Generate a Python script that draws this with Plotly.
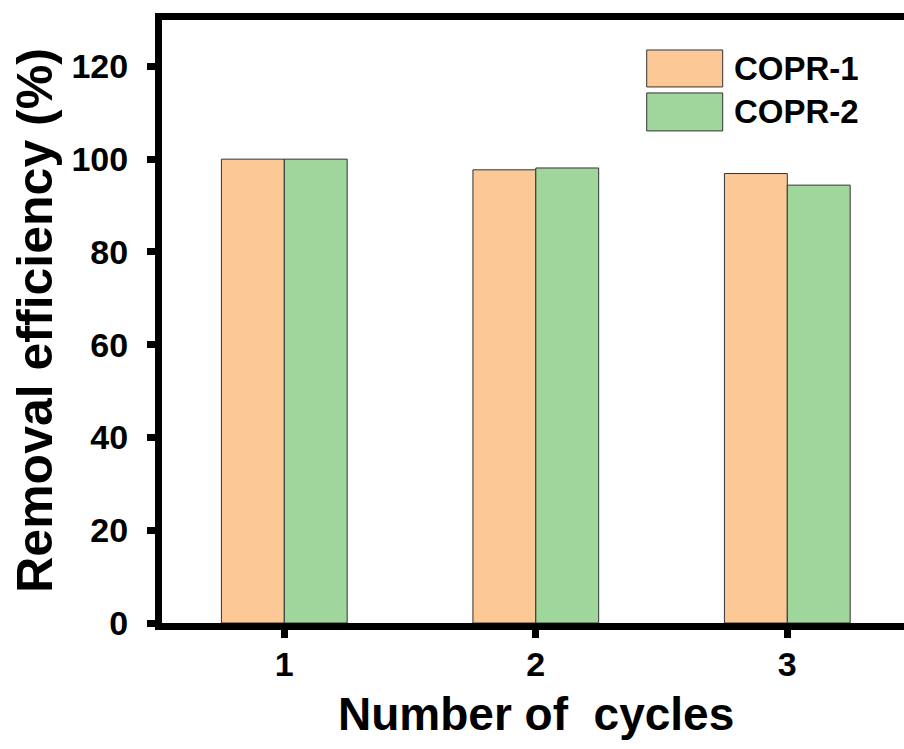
import plotly.graph_objects as go

cycles = [1, 2, 3]
copr1 = [100.0, 97.7, 96.9]
copr2 = [100.0, 98.1, 94.4]
series_names = ["COPR-1", "COPR-2"]
colors = ["#FCC896", "#9ED69C"]
y_ticks = [0, 20, 40, 60, 80, 100, 120]

W, H = 904, 749
L, R, T, B = 162, 0, 20, 125.5
pw, ph = W - L - R, H - T - B
FONT = "Liberation Sans, Arial, sans-serif"

def px_x(p):
    return (p - L) / pw

def px_y(p):
    return (H - B - p) / ph

fig = go.Figure()
for vals, name, col, off in zip([copr1, copr2], series_names, colors, [-0.25, 0.0]):
    fig.add_trace(go.Bar(
        x=cycles, y=vals, name=name, width=0.25, offset=off,
        marker=dict(color=col, line=dict(color="#333333", width=1)),
        showlegend=False,
    ))

# legend drawn manually (large rectangular swatches)
leg_rows = [(50, 87), (93, 131)]
for (y0, y1), name, col in zip(leg_rows, series_names, colors):
    fig.add_shape(type="rect", xref="paper", yref="paper",
                  x0=px_x(646.7), x1=px_x(722.7), y0=px_y(y1), y1=px_y(y0),
                  fillcolor=col, line=dict(color="#333333", width=1))
    fig.add_annotation(xref="paper", yref="paper", x=px_x(732), y=px_y((y0 + y1) / 2),
                       text=f"<b>{name}</b>", showarrow=False, xanchor="left", yanchor="middle",
                       font=dict(family=FONT, size=33, color="black"))

fig.add_annotation(xref="x", yref="paper", x=2, y=px_y(715), text="<b>Number of&nbsp; cycles</b>",
                   showarrow=False, xanchor="center", yanchor="middle",
                   font=dict(family=FONT, size=46, color="black"))
fig.add_annotation(xref="paper", yref="paper", x=px_x(35), y=px_y(321), text="<b>Removal efficiency (%)</b>",
                   showarrow=False, textangle=-90, xanchor="center", yanchor="middle",
                   font=dict(family=FONT, size=50, color="black"))

fig.update_layout(
    width=W, height=H,
    margin=dict(l=L, r=R, t=T, b=B, pad=0),
    paper_bgcolor="white", plot_bgcolor="white",
    barmode="overlay",
    font=dict(family=FONT, color="black"),
)
fig.update_xaxes(range=[0.5137, 3.464], tickvals=cycles, ticktext=[f"<b>{c}</b>" for c in cycles],
                 showgrid=False, zeroline=False, showline=True, linecolor="black", linewidth=7,
                 mirror=True, ticks="outside", ticklen=8, tickwidth=7, tickcolor="black",
                 ticklabelstandoff=-3,
                 tickfont=dict(family=FONT, size=34, color="black"))
fig.update_yaxes(range=[0, 130], tickvals=y_ticks, ticktext=[f"<b>{v}</b>" for v in y_ticks],
                 showgrid=False, zeroline=False, showline=True, linecolor="black", linewidth=7,
                 mirror=False, ticks="outside", ticklen=8, tickwidth=7, tickcolor="black",
                 ticklabelstandoff=12,
                 tickfont=dict(family=FONT, size=34, color="black"))

fig.write_html(
    "out.html",
    config={"displayModeBar": False},
    post_script="document.body.style.margin='0';document.body.style.overflow='hidden';",
)
